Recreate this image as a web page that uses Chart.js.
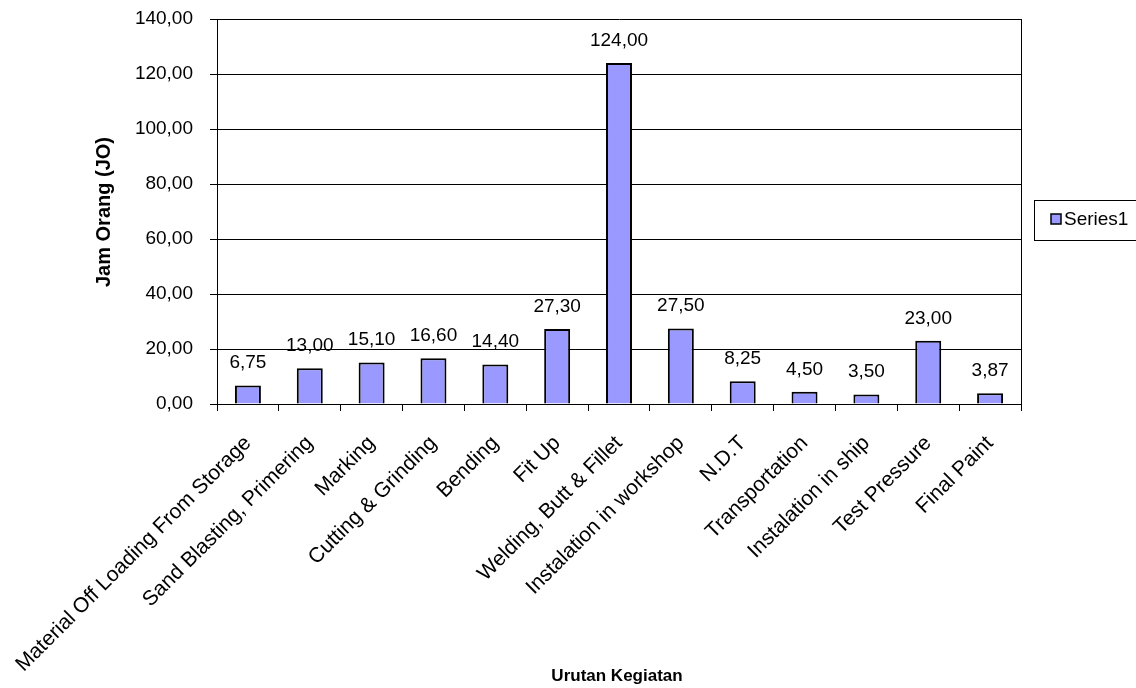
<!DOCTYPE html>
<html><head><meta charset="utf-8">
<script src="https://cdn.jsdelivr.net/npm/chart.js@4.4.1/dist/chart.umd.min.js"></script>
<style>html,body{margin:0;padding:0;background:#fff}#wrap{width:1136px;height:688px;position:relative}</style>
</head><body><div id="wrap"><canvas id="c" width="1136" height="688"></canvas></div>
<script>
const categories = ["Material Off Loading From Storage","Sand Blasting, Primering","Marking","Cutting & Grinding","Bending","Fit Up","Welding, Butt & Fillet","Instalation in workshop","N.D.T","Transportation","Instalation in ship","Test Pressure","Final Paint"];
const series1 = [6.75,13.00,15.10,16.60,14.40,27.30,124.00,27.50,8.25,4.50,3.50,23.00,3.87];
const yTicks = [0,20,40,60,80,100,120,140];
const seriesName = "Series1";
const yTitle = "Jam Orang (JO)";
const xTitle = "Urutan Kegiatan";

const FONT = "'Liberation Sans', Arial, sans-serif";
const fmt = v => v.toFixed(2).replace('.', ',');

const extras = {
  id: 'extras',
  afterDraw(chart) {
    const ctx = chart.ctx, a = chart.chartArea;
    ctx.save();
    ctx.strokeStyle = '#000'; ctx.lineWidth = 1;
    ctx.beginPath(); ctx.moveTo(Math.round(a.right)+0.5, a.top); ctx.lineTo(Math.round(a.right)+0.5, a.bottom); ctx.stroke();
    const meta = chart.getDatasetMeta(0);
    ctx.fillStyle = '#000'; ctx.font = '19px ' + FONT; ctx.textAlign = 'center'; ctx.textBaseline = 'alphabetic';
    meta.data.forEach((bar, i) => { ctx.fillText(fmt(series1[i]), bar.x, bar.y - 17); });
    ctx.textBaseline = 'middle';
    ctx.font = 'bold 17px ' + FONT;
    ctx.fillText(xTitle, 617, 676);
    ctx.font = 'bold 20px ' + FONT;
    ctx.save(); ctx.translate(104, 212); ctx.rotate(-Math.PI/2); ctx.fillText(yTitle, 0, 0); ctx.restore();
    ctx.strokeStyle = '#000'; ctx.lineWidth = 1;
    ctx.strokeRect(1034.5, 200.5, 120, 40);
    ctx.fillStyle = '#9999FF'; ctx.fillRect(1051, 214, 10, 10);
    ctx.lineWidth = 1.5; ctx.strokeRect(1051, 214, 10, 10);
    ctx.fillStyle = '#000'; ctx.font = '19px ' + FONT; ctx.textAlign = 'left'; ctx.textBaseline = 'middle';
    ctx.fillText(seriesName, 1064, 220);
    ctx.restore();
  }
};

function noPad(s) { s.paddingLeft = 0; s.paddingRight = 0; s.paddingTop = 0; s.paddingBottom = 0; }

new Chart(document.getElementById('c'), {
  type: 'bar',
  data: { labels: categories, datasets: [{ label: seriesName, data: series1, backgroundColor: '#9999FF', borderColor: '#000', borderWidth: 2, barPercentage: 0.42, categoryPercentage: 1 }] },
  options: {
    responsive: false, animation: false, devicePixelRatio: 1,
    layout: { padding: { top: 19, right: 115, bottom: 0, left: 0 } },
    plugins: { legend: { display: false }, tooltip: { enabled: false } },
    scales: {
      x: {
        afterFit(s) { s.height = 284; noPad(s); },
        grid: { display: true, drawOnChartArea: false, offset: true, color: '#000', tickLength: 7, drawTicks: true },
        border: { display: true, color: '#000', width: 1 },
        ticks: { color: '#000', font: { family: FONT, size: 21 }, maxRotation: 45, minRotation: 45, autoSkip: false, padding: 20 }
      },
      y: {
        min: 0, max: 140,
        afterFit(s) { s.width = 217; noPad(s); },
        afterBuildTicks(s) { s.ticks = yTicks.map(v => ({ value: v })); },
        grid: { color: '#000', tickLength: 7, drawTicks: true },
        border: { display: true, color: '#000', width: 1 },
        ticks: { color: '#000', font: { family: FONT, size: 19 }, padding: 17, callback: v => fmt(v) }
      }
    }
  },
  plugins: [extras]
});
</script></body></html>
